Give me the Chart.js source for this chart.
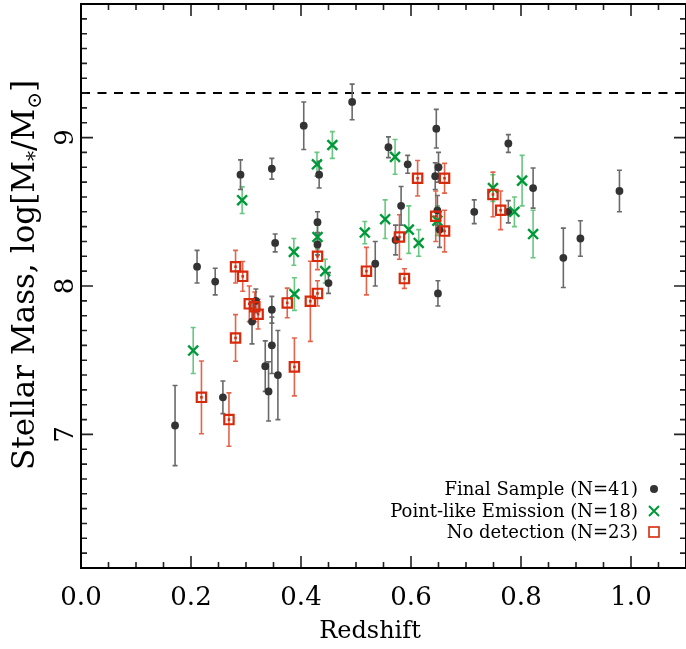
<!DOCTYPE html>
<html><head><meta charset="utf-8">
<script src="https://cdn.jsdelivr.net/npm/chart.js@4"></script>
<style>html,body{margin:0;padding:0;background:#fff}#wrap{width:686px;height:649px}</style>
</head><body><div id="wrap"><canvas id="c" width="686" height="649"></canvas></div>
<script>
// ---- Final Sample (black dots)
const FS_Z = [0.171,0.211,0.244,0.258,0.290,0.311,0.318,0.347,0.347,0.335,0.341,0.358,0.347,0.353,0.405,0.433,0.430,0.430,0.450,0.493,0.535,0.559,0.572,0.582,0.594,0.646,0.650,0.644,0.649,0.648,0.652,0.715,0.777,0.777,0.822,0.877,0.908,0.979];
const FS_M = [7.06,8.13,8.03,7.25,8.75,7.76,7.90,7.84,7.60,7.46,7.29,7.40,8.79,8.29,9.08,8.75,8.43,8.28,8.02,9.24,8.15,8.935,8.31,8.54,8.82,9.06,8.80,8.74,7.95,8.51,8.38,8.50,8.96,8.50,8.66,8.19,8.32,8.64];
const FS_E = [0.27,0.11,0.09,0.11,0.10,0.15,0.08,0.09,0.19,0.17,0.20,0.30,0.07,0.06,0.16,0.09,0.07,0.07,0.07,0.12,0.15,0.07,0.10,0.13,0.06,0.13,0.10,0.09,0.085,0.10,0.12,0.08,0.06,0.075,0.135,0.20,0.12,0.14];
// ---- Point-like Emission (green crosses)
const PL_Z = [0.204,0.293,0.387,0.388,0.429,0.430,0.444,0.457,0.516,0.553,0.571,0.596,0.614,0.648,0.749,0.788,0.802,0.822];
const PL_M = [7.565,8.578,8.23,7.946,8.82,8.33,8.10,8.95,8.36,8.45,8.87,8.38,8.29,8.44,8.66,8.50,8.71,8.35];
const PL_E = [0.155,0.09,0.09,0.11,0.08,0.08,0.08,0.09,0.075,0.13,0.117,0.16,0.09,0.10,0.09,0.10,0.17,0.16];
// ---- No detection (red squares)
const ND_Z = [0.219,0.269,0.281,0.281,0.294,0.306,0.316,0.322,0.375,0.388,0.417,0.430,0.430,0.519,0.579,0.588,0.612,0.645,0.661,0.661,0.749,0.763];
const ND_M = [7.25,7.10,7.65,8.13,8.065,7.88,7.86,7.81,7.886,7.455,7.897,7.95,8.20,8.10,8.33,8.05,8.726,8.47,8.726,8.37,8.617,8.51];
const ND_E = [0.245,0.18,0.157,0.11,0.10,0.12,0.10,0.10,0.10,0.195,0.27,0.085,0.09,0.16,0.15,0.066,0.12,0.17,0.10,0.14,0.15,0.13];

const X_TICKS = [0.0,0.2,0.4,0.6,0.8,1.0];
const Y_TICKS = [7,8,9];
const X_RANGE = [0,1.1];
const Y_RANGE = [6.1,9.9];
const DASH_LEVEL = 9.3;
const LEGEND_LABELS = ['Final Sample (N=41)','Point-like Emission (N=18)','No detection (N=23)'];
const X_TITLE = 'Redshift';

const FONT = 'DejaVu Serif';
const C_BLACK = '#333333', C_BLACK_ERR = '#6a6a6a';
const C_GREEN = '#00993a', C_GREEN_ERR = 'rgba(40,175,75,0.7)';
const C_RED = '#d8290a', C_RED_ERR = 'rgba(222,60,30,0.8)';

const pts = (zs, ms) => zs.map((z,i)=>({x:z, y:ms[i]}));

const decor = {
  id:'decor',
  beforeDatasetsDraw(chart){
    const {ctx, chartArea:a, scales:{x,y}} = chart;
    ctx.save();
    ctx.strokeStyle='#000'; ctx.lineWidth=2; ctx.setLineDash([9,7.5]);
    const yd = y.getPixelForValue(DASH_LEVEL);
    ctx.beginPath(); ctx.moveTo(a.left,yd); ctx.lineTo(a.right,yd); ctx.stroke();
    ctx.setLineDash([]);
    chart.data.datasets.forEach(ds=>{
      if(!ds.err) return;
      ctx.strokeStyle = ds.errColor; ctx.lineWidth = 1.6;
      ds.data.forEach((p,j)=>{
        const px = x.getPixelForValue(p.x);
        const yt = y.getPixelForValue(p.y + ds.err[j]);
        const yb = y.getPixelForValue(p.y - ds.err[j]);
        ctx.beginPath();
        ctx.moveTo(px,yt); ctx.lineTo(px,yb);
        ctx.moveTo(px-2.5,yt); ctx.lineTo(px+2.5,yt);
        ctx.moveTo(px-2.5,yb); ctx.lineTo(px+2.5,yb);
        ctx.stroke();
      });
    });
    ctx.restore();
  },
  afterDraw(chart){
    const {ctx, chartArea:a, scales:{x,y}} = chart;
    ctx.save();
    ctx.strokeStyle='#222'; ctx.lineWidth=1.6;
    ctx.beginPath();
    for(let k=0; k*0.05 <= X_RANGE[1]+1e-9; k++){
      const p = x.getPixelForValue(k*0.05);
      const len = (k%4===0)?12:6;
      ctx.moveTo(p,a.bottom); ctx.lineTo(p,a.bottom-len);
      ctx.moveTo(p,a.top); ctx.lineTo(p,a.top+len);
    }
    for(let k=Math.round(Y_RANGE[0]*10); k<=Math.round(Y_RANGE[1]*10); k++){
      const p = y.getPixelForValue(k/10);
      const len = (k%10===0)?12:6;
      ctx.moveTo(a.left,p); ctx.lineTo(a.left+len,p);
      ctx.moveTo(a.right,p); ctx.lineTo(a.right-len,p);
    }
    ctx.stroke();
    ctx.strokeStyle='#000'; ctx.lineWidth=2;
    ctx.strokeRect(a.left, a.top, a.right-a.left, a.bottom-a.top);
    // x title
    ctx.fillStyle='#000'; ctx.font='24px "'+FONT+'"'; ctx.textAlign='center'; ctx.textBaseline='middle';
    ctx.fillText(X_TITLE, a.left+289, a.bottom+64);
    // y title with subscripts
    const segs = [['Stellar Mass, log[M',0],['*',1],['/M',0],['\u2299',1],[']',0]];
    const fs = 31, sfs = 20;
    ctx.textBaseline='alphabetic'; ctx.textAlign='left';
    let total = 0;
    segs.forEach(s=>{ ctx.font = (s[1]?sfs:fs)+'px "'+FONT+'"'; total += ctx.measureText(s[0]).width; });
    ctx.translate(a.left-47, (a.top+a.bottom)/2 - 11);
    ctx.rotate(-Math.PI/2);
    let cx = -total/2;
    segs.forEach(s=>{
      ctx.font = (s[1]?sfs:fs)+'px "'+FONT+'"';
      ctx.fillText(s[0], cx, s[1]?7:0);
      cx += ctx.measureText(s[0]).width;
    });
    ctx.restore();
    // legend
    ctx.save();
    ctx.font = '18px "'+FONT+'"'; ctx.fillStyle='#000';
    ctx.textAlign='right'; ctx.textBaseline='middle';
    const tx = a.right-48, sx = a.right-32;
    const rows = [a.bottom-79, a.bottom-57, a.bottom-36];
    LEGEND_LABELS.forEach((t,i)=>ctx.fillText(t, tx, rows[i]+1));
    ctx.fillStyle=C_BLACK; ctx.beginPath(); ctx.arc(sx, rows[0], 4, 0, 2*Math.PI); ctx.fill();
    ctx.strokeStyle=C_GREEN; ctx.lineWidth=2; ctx.beginPath();
    ctx.moveTo(sx-5,rows[1]-5); ctx.lineTo(sx+5,rows[1]+5); ctx.moveTo(sx-5,rows[1]+5); ctx.lineTo(sx+5,rows[1]-5); ctx.stroke();
    ctx.strokeStyle=C_RED; ctx.lineWidth=1.6; ctx.strokeRect(sx-5, rows[2]-5, 10, 10);
    ctx.restore();
  }
};

new Chart(document.getElementById('c'), {
  type:'scatter',
  data:{datasets:[
    {label:'nd-center', data:pts(ND_Z,ND_M), pointStyle:'rect', pointRadius:1.8, backgroundColor:C_RED, borderColor:C_RED, borderWidth:0},
    {label:LEGEND_LABELS[2], data:pts(ND_Z,ND_M), err:ND_E, errColor:C_RED_ERR, pointStyle:'rect', pointRadius:6.6, backgroundColor:'rgba(0,0,0,0)', borderColor:C_RED, borderWidth:2.2},
    {label:LEGEND_LABELS[1], data:pts(PL_Z,PL_M), err:PL_E, errColor:C_GREEN_ERR, pointStyle:'crossRot', pointRadius:7, borderColor:C_GREEN, backgroundColor:C_GREEN, borderWidth:2.4},
    {label:LEGEND_LABELS[0], data:pts(FS_Z,FS_M), err:FS_E, errColor:C_BLACK_ERR, pointStyle:'circle', pointRadius:3.9, backgroundColor:C_BLACK, borderColor:C_BLACK, borderWidth:0}
  ]},
  options:{
    responsive:false, animation:false, events:[],
    layout:{autoPadding:false, padding:{top:4,right:0,left:0,bottom:0}},
    plugins:{legend:{display:false}, tooltip:{enabled:false}},
    scales:{
      x:{type:'linear', min:X_RANGE[0], max:X_RANGE[1],
        afterBuildTicks:s=>{s.ticks = X_TICKS.map(v=>({value:v}));},
        afterFit:s=>{s.height=81; s.paddingLeft=0; s.paddingRight=0;},
        grid:{display:false, drawTicks:false}, border:{display:false},
        ticks:{callback:v=>Number(v).toFixed(1), color:'#000', font:{family:FONT,size:26}, padding:15, maxRotation:0, autoSkip:false},
        title:{display:false}
      },
      y:{type:'linear', min:Y_RANGE[0], max:Y_RANGE[1],
        afterBuildTicks:s=>{s.ticks = Y_TICKS.map(v=>({value:v}));},
        afterFit:s=>{s.width=81; s.paddingTop=0; s.paddingBottom=0;},
        grid:{display:false, drawTicks:false}, border:{display:false},
        ticks:{callback:v=>String(v), color:'#000', font:{family:FONT,size:26}, padding:6, minRotation:90, maxRotation:90, crossAlign:'center', autoSkip:false}
      }
    }
  },
  plugins:[decor]
});
</script></body></html>
